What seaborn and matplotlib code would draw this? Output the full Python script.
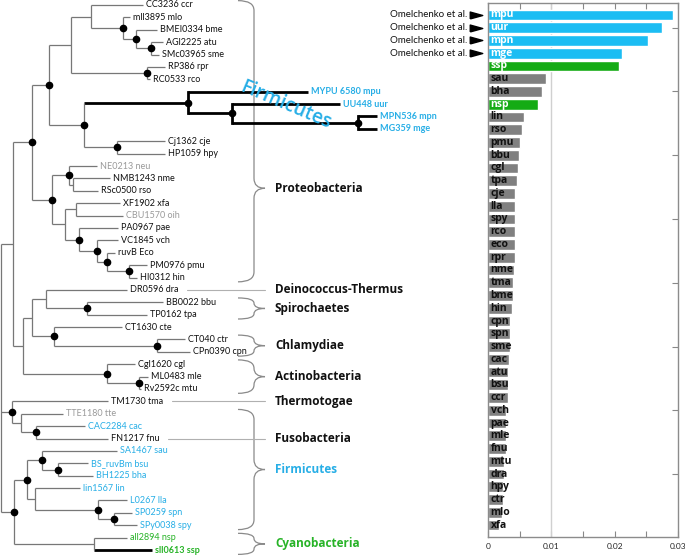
import numpy as np
import pandas as pd
import seaborn as sns
import matplotlib.pyplot as plt
import matplotlib.transforms as mtransforms
from matplotlib.path import Path
from matplotlib.patches import PathPatch

sns.set_style('white')
plt.rcParams['font.family'] = ['Lato', 'DejaVu Sans']
heavy = ['Open Sans', 'DejaVu Sans']

# ---- tree leaves, top to bottom
leaf_labels = ['CC3236 ccr', 'mll3895 mlo', 'BMEI0334 bme', 'AGl2225 atu', 'SMc03965 sme',
               'RP386 rpr', 'RC0533 rco', 'MYPU 6580 mpu', 'UU448 uur', 'MPN536 mpn',
               'MG359 mge', 'Cj1362 cje', 'HP1059 hpy', 'NE0213 neu', 'NMB1243 nme',
               'RSc0500 rso', 'XF1902 xfa', 'CBU1570 oih', 'PA0967 pae', 'VC1845 vch',
               'ruvB Eco', 'PM0976 pmu', 'HI0312 hin', 'DR0596 dra', 'BB0022 bbu',
               'TP0162 tpa', 'CT1630 cte', 'CT040 ctr', 'CPn0390 cpn', 'Cgl1620 cgl',
               'ML0483 mle', 'Rv2592c mtu', 'TM1730 tma', 'TTE1180 tte', 'CAC2284 cac',
               'FN1217 fnu', 'SA1467 sau', 'BS_ruvBm bsu', 'BH1225 bha', 'lin1567 lin',
               'L0267 lla', 'SP0259 spn', 'SPy0038 spy', 'all2894 nsp', 'sll0613 ssp']
leaf_tip_x = [143, 130, 157, 163, 159, 165, 150, 308, 340, 377,
              377, 165, 165, 97, 110, 98, 120, 123, 118, 118,
              115, 147, 137, 127, 163, 147, 122, 185, 190, 135,
              148, 141, 108, 63, 85, 108, 117, 88, 93, 80,
              127, 132, 137, 127, 152]
leaf_parent = ['B', 'C', 'D', 'E', 'E', 'F', 'F', 'H', 'J', 'K',
               'K', 'I', 'I', 'L', 'M', 'M', 'R', 'R', 'S', 'AO',
               'AP', 'AQ', 'AQ', 'V', 'W', 'W', 'Y', 'Z', 'Z', 'AA',
               'AB', 'AB', 'AD', 'AE', 'AF', 'AF', 'AJ', 'AM', 'AM', 'AK',
               'AL', 'AN', 'AN', 'AI', 'AI']
leaf_group = ['k', 'k', 'k', 'k', 'k', 'k', 'k', 'b', 'b', 'b',
              'b', 'k', 'k', 'g', 'k', 'k', 'k', 'g', 'k', 'k',
              'k', 'k', 'k', 'k', 'k', 'k', 'k', 'k', 'k', 'k',
              'k', 'k', 'k', 'g', 'b', 'k', 'b', 'b', 'b', 'b',
              'b', 'b', 'b', 'G', 'G']
bold_leaves = ['MYPU 6580 mpu', 'UU448 uur', 'MPN536 mpn', 'MG359 mge', 'sll0613 ssp']

# ---- internal nodes
node_names = ['root', 'T', 'N1', 'N2', 'A', 'B', 'C', 'D', 'E', 'F', 'G', 'H', 'J', 'K', 'I',
              'P', 'L', 'M', 'Q', 'R', 'S', 'AO', 'AP', 'AQ', 'AC', 'X', 'V', 'W', 'Y', 'Z',
              'AA', 'AB', 'AD', 'AE', 'AF', 'AG', 'AH', 'AJ', 'AM', 'AK', 'AL', 'AN', 'AI']
node_x = [1, 13, 32, 49, 71, 91, 123, 136, 151, 147, 84, 188, 232, 358, 117,
          52, 69, 73, 65, 76, 79, 97, 107, 129, 23, 32, 46, 87, 54, 157,
          107, 139, 12, 21, 36, 14, 27, 42, 58, 35, 98, 114, 94]
node_parent = [None, 'root', 'T', 'N1', 'N2', 'A', 'B', 'C', 'D', 'A', 'N2', 'G', 'H', 'J', 'G',
               'N1', 'P', 'L', 'P', 'Q', 'Q', 'S', 'AO', 'AP', 'T', 'AC', 'X', 'V', 'X', 'Y',
               'AC', 'AA', 'root', 'AD', 'AE', 'root', 'AG', 'AH', 'AJ', 'AH', 'AK', 'AL', 'AG']
node_dots = ['N1', 'N2', 'C', 'D', 'E', 'F', 'G', 'H', 'J', 'K', 'I', 'P', 'L', 'S', 'AO',
             'AP', 'AQ', 'W', 'Y', 'Z', 'AA', 'AB', 'AD', 'AF', 'AG', 'AH', 'AJ', 'AM',
             'AL', 'AN']
thick_nodes = ['H', 'J', 'K']

# ---- clade annotations
clade_names = ['Proteobacteria', 'Deinococcus-Thermus', 'Spirochaetes', 'Chlamydiae',
               'Actinobacteria', 'Thermotogae', 'Fusobacteria', 'Firmicutes', 'Cyanobacteria']
clade_first = [0, 23, 24, 27, 29, 32, 35, 33, 43]
clade_last = [22, 23, 25, 28, 31, 32, 35, 42, 44]
clade_mark = ['brace', 'line', 'brace', 'brace', 'brace', 'line', 'line', 'brace', 'brace']
clade_group = ['k', 'k', 'k', 'k', 'k', 'k', 'k', 'b', 'G']

# ---- bar chart
bar_names = ['mpu', 'uur', 'mpn', 'mge', 'ssp', 'sau', 'bha', 'nsp', 'lin', 'rso',
             'pmu', 'bbu', 'cgl', 'tpa', 'cje', 'lla', 'spy', 'rco', 'eco', 'rpr',
             'nme', 'tma', 'bme', 'hin', 'cpn', 'spn', 'sme', 'cac', 'atu', 'bsu',
             'ccr', 'vch', 'pae', 'mle', 'fnu', 'mtu', 'dra', 'hpy', 'ctr', 'mlo', 'xfa']
bar_values = [0.0292, 0.0275, 0.0252, 0.0211, 0.0207, 0.0091, 0.0085, 0.0079, 0.0057, 0.0053,
              0.0050, 0.0049, 0.0047, 0.0045, 0.0043, 0.0043, 0.0043, 0.0043, 0.0042, 0.0042,
              0.0041, 0.0040, 0.0039, 0.0038, 0.0035, 0.0034, 0.0034, 0.0033, 0.0032, 0.0032,
              0.0031, 0.0029, 0.0029, 0.0028, 0.0028, 0.0025, 0.0025, 0.0024, 0.0023, 0.0022, 0.0018]
bar_group = ['myco'] * 4 + ['cyano', 'other', 'other', 'cyano'] + ['other'] * 33
omelchenko = ['mpu', 'uur', 'mpn', 'mge']

text_colors = {'k': '#111111', 'g': '#9a9a9a', 'b': '#27aee6', 'G': '#27b327'}
bar_colors = {'myco': '#1cbdf3', 'cyano': '#14ab14', 'other': '#808080'}
line_col = '#777777'

fig = plt.figure(figsize=(6.85, 5.55), dpi=100)

# tree axes: x in pixels, y in leaf index
tax = fig.add_axes([0, 0, 1, 1])
tax.set_xlim(0, 685)
tax.set_ylim(44.40, -0.40)
tax.axis('off')

children = {n: [] for n in node_names}
for i, p in enumerate(leaf_parent):
    children[p].append(('leaf', i))
for n, p in zip(node_names, node_parent):
    if p is not None:
        children[p].append(('node', n))
xpos = dict(zip(node_names, node_x))


def draw(name):
    x = xpos[name]
    ys = []
    for kind, key in children[name]:
        if kind == 'leaf':
            cy, cx = key, leaf_tip_x[key]
            thick = leaf_labels[key] in bold_leaves
        else:
            cy, cx = draw(key), xpos[key]
            thick = key in thick_nodes
        tax.plot([x, cx], [cy, cy], color='k' if thick else line_col,
                 lw=2.0 if thick else 0.9, solid_capstyle='butt')
        ys.append(cy)
    thick = name in thick_nodes
    tax.plot([x, x], [min(ys), max(ys)], color='k' if thick else line_col,
             lw=2.0 if thick else 0.9, solid_capstyle='projecting' if thick else 'butt')
    y = (min(ys) + max(ys)) / 2
    if name in node_dots:
        tax.plot(x, y, 'o', ms=4.5, color='k', zorder=5)
    return y


draw('root')

leaf_texts = []
for i, (lab, tx, g) in enumerate(zip(leaf_labels, leaf_tip_x, leaf_group)):
    t = tax.text(tx + 3.5, i, lab, va='center', ha='left', fontsize=6.5,
                 color=text_colors[g], weight='bold' if lab in bold_leaves else 'normal')
    leaf_texts.append(t)

tax.text(286, 8.1, 'Firmicutes', rotation=-23, rotation_mode='anchor', fontsize=13.8,
         family=heavy, weight='semibold', color=text_colors['b'], ha='center', va='center')


def brace(y0, y1, ym):
    xl, xm, xt = 238, 254, 265
    r = min(0.8, (y1 - y0) / 4)
    verts = [(xl, y0), (xm, y0), (xm, y0 + r), (xm, ym - r), (xm, ym), (xt, ym),
             (xm, ym), (xm, ym + r), (xm, y1 - r), (xm, y1), (xl, y1)]
    codes = [Path.MOVETO, Path.CURVE3, Path.CURVE3, Path.LINETO, Path.CURVE3, Path.CURVE3,
             Path.CURVE3, Path.CURVE3, Path.LINETO, Path.CURVE3, Path.CURVE3]
    tax.add_patch(PathPatch(Path(verts, codes), fc='none', ec='#8a8a8a', lw=0.9))


fig.canvas.draw()
renderer = fig.canvas.get_renderer()
inv = tax.transData.inverted()
for name, a, b, mark, g in zip(clade_names, clade_first, clade_last, clade_mark, clade_group):
    ym = (a + b) / 2
    if name == 'Proteobacteria':
        ym = 14.8
    if mark == 'brace':
        brace(a - 0.35, b + 0.35, ym)
    else:
        bb = leaf_texts[a].get_window_extent(renderer)
        x_end = inv.transform((bb.x1, bb.y0))[0]
        tax.plot([x_end + 8, 265], [a, a], color='#b0b0b0', lw=0.8)
    tax.text(275, ym, name, va='center', ha='left', fontsize=8.5, weight='bold',
             family=heavy, color=text_colors[g])

# bar chart
bax = fig.add_axes([488 / 685, 1 - 537 / 555, 190 / 685, 534 / 555])
df = pd.DataFrame({'species': bar_names, 'value': bar_values, 'group': bar_group})
sns.barplot(data=df, x='value', y='species', hue='group', palette=bar_colors, dodge=False,
            width=0.86, saturation=1, legend=False, ax=bax, zorder=2)
bax.axvline(0.01, color='#d0d0d0', lw=1, zorder=1)
bax.set_xlim(0, 0.03)
bax.set_ylim(40.94, -0.94)
bax.set_xlabel('')
bax.set_ylabel('')
bax.set_xticks([0, 0.01, 0.02, 0.03])
bax.set_xticklabels(['0', '0.01', '0.02', '0.03'])
bax.set_xticks([0.005, 0.015, 0.025], minor=True)
bax.set_yticks(range(1, 41, 5))
bax.tick_params(axis='x', which='both', direction='in', length=4, top=True, bottom=True,
                labelsize=6, pad=4, color='#888888', width=0.8)
bax.tick_params(axis='y', direction='in', length=4, left=False, right=True,
                labelleft=False, color='#888888', width=0.8)
for s in bax.spines.values():
    s.set_visible(True)
    s.set_color('#8c8c8c')
    s.set_linewidth(1.0)

for i, (n, g) in enumerate(zip(bar_names, bar_group)):
    bax.text(0.0004, i, n, va='center', ha='left', fontsize=7.5, weight='bold',
             family=heavy, color='white' if g != 'other' else '#111111', zorder=3)

blend = mtransforms.blended_transform_factory(bax.transAxes, bax.transData)
tri = [(-1, -0.55), (1, 0), (-1, 0.55), (-1, -0.55)]
for n in omelchenko:
    i = bar_names.index(n)
    bax.text(-0.11, i, 'Omelchenko et al.', transform=blend, ha='right', va='center',
             fontsize=7, color='#111111')
    bax.plot(-0.063, i, marker=tri, ms=9, color='k', transform=blend, clip_on=False)

fig.savefig('out.png', dpi=100)
